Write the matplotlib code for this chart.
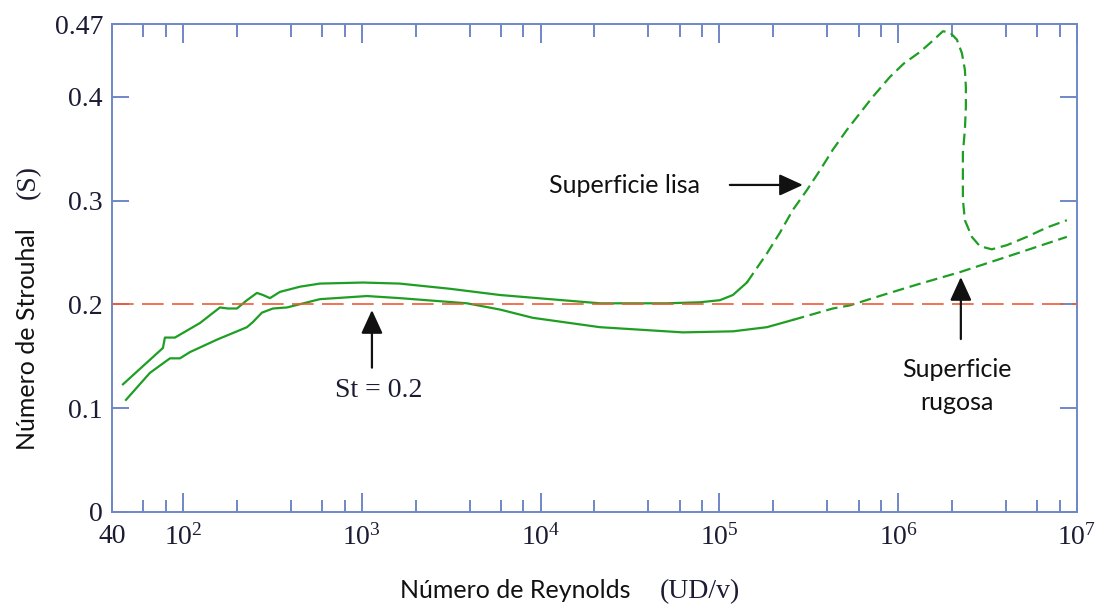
import matplotlib
matplotlib.use("Agg")
import matplotlib.pyplot as plt
from matplotlib.ticker import FixedLocator, NullFormatter

plt.rcParams["mathtext.fontset"] = "custom"
plt.rcParams["mathtext.rm"] = "Liberation Serif"
plt.rcParams["font.family"] = ["Liberation Serif", "DejaVu Serif"]

SERIF = ["Liberation Serif", "DejaVu Serif"]
SANS = ["Lato", "DejaVu Sans"]
AXC = "#6f87c6"      # color del marco
TXC = "#1b1b33"      # texto de ticks
GREEN = "#1f9e24"
RED = "#ef5a35"

# ---- curvas (Re, St) ----
# superficie lisa: tramo continuo y tramo discontinuo
re_lisa_solid = [46.1, 77.1, 79.1, 90.0, 124.2, 160.7, 178.1, 200.0, 227.5, 258.8, 279.6,
                 305.9, 348.0, 450.3, 582.6, 1013, 1625, 3108, 5916, 11260, 21450, 50820,
                 77730, 100600, 118900, 142400]
st_lisa_solid = [0.123, 0.158, 0.168, 0.168, 0.182, 0.197, 0.196, 0.196, 0.204, 0.211,
                 0.209, 0.206, 0.212, 0.217, 0.220, 0.221, 0.220, 0.215, 0.209, 0.205,
                 0.201, 0.201, 0.202, 0.204, 0.209, 0.221]
re_lisa_dash = [142400, 161960, 184200, 217800, 257500, 308300, 364500, 430900, 516100,
                610100, 721500, 898100, 1.0752e6, 1.3213e6, 1.5615e6, 1.7770e6, 1.9444e6,
                2.1281e6, 2.2699e6, 2.3594e6, 2.3900e6, 2.3900e6, 2.3594e6, 2.2993e6,
                2.2993e6, 2.2993e6, 2.3594e6, 2.5808e6, 2.8617e6, 3.3392e6, 4.0508e6,
                5.2420e6, 6.7805e6, 8.7726e6]
st_lisa_dash = [0.221, 0.235, 0.249, 0.269, 0.291, 0.310, 0.329, 0.349, 0.368, 0.384,
                0.400, 0.419, 0.432, 0.443, 0.454, 0.463, 0.462, 0.455, 0.442, 0.426,
                0.409, 0.390, 0.368, 0.346, 0.323, 0.301, 0.281, 0.265, 0.256, 0.253,
                0.257, 0.265, 0.274, 0.281]

# superficie rugosa
re_rug_solid = [47.9, 65.2, 84.4, 96.0, 109.2, 154.6, 227.5, 245.8, 276.0, 318.0, 380.9,
                582.6, 1067, 1625, 3868, 5916, 9050, 21450, 62460, 118900, 184200, 257500]
st_rug_solid = [0.108, 0.134, 0.148, 0.148, 0.154, 0.166, 0.178, 0.183, 0.192, 0.196,
                0.197, 0.205, 0.208, 0.206, 0.201, 0.195, 0.187, 0.178, 0.173, 0.174,
                0.178, 0.185]
re_rug_dash = [257500, 430900, 536500, 820700, 1.2716e6, 2.2114e6, 4.6075e6, 8.7726e6]
st_rug_dash = [0.185, 0.196, 0.199, 0.209, 0.219, 0.231, 0.249, 0.265]

st_ref = 0.2

xmajor = [40, 1e2, 1e3, 1e4, 1e5, 1e6, 1e7]
xmajor_labels = ["40"] + [r"$\mathrm{10^{%d}}$" % k for k in range(2, 8)]
ymajor = [0, 0.1, 0.2, 0.3, 0.4, 0.47]
ymajor_labels = ["0", "0.1", "0.2", "0.3", "0.4", "0.47"]

fig = plt.figure(figsize=(11, 6.08), dpi=100)
ax = fig.add_axes([0.1018, 0.1579, 0.8773, 0.8026])
ax.set_xscale("log")
ax.set_xlim(40, 1e7)
ax.set_ylim(0, 0.47)

ax.plot(re_lisa_solid, st_lisa_solid, color=GREEN, lw=1.6, zorder=2)
ax.plot(re_lisa_dash, st_lisa_dash, color=GREEN, lw=1.6, dashes=(5.2, 2.6), zorder=2)
ax.plot(re_rug_solid, st_rug_solid, color=GREEN, lw=1.6, zorder=2)
ax.plot(re_rug_dash, st_rug_dash, color=GREEN, lw=1.6, dashes=(5.2, 2.6), zorder=2)
ax.axhline(st_ref, color=RED, lw=1.2, dashes=(13, 5), zorder=3)

# ---- ejes ----
for s in ax.spines.values():
    s.set_color(AXC)
    s.set_linewidth(1.4)
ax.xaxis.set_major_locator(FixedLocator(xmajor))
ax.set_xticklabels(xmajor_labels)
minors = [60, 80] + [m * 10 ** k for k in range(2, 7) for m in (2, 4, 6, 8)]
ax.xaxis.set_minor_locator(FixedLocator(minors))
ax.xaxis.set_minor_formatter(NullFormatter())
ax.set_yticks(ymajor)
ax.set_yticklabels(ymajor_labels)
ax.tick_params(which="both", direction="in", top=True, right=True, color=AXC,
               labelcolor=TXC, labelsize=20)
ax.tick_params(axis="x", which="major", length=13.5, width=1.4, pad=9)
ax.tick_params(axis="x", which="minor", length=9, width=1.4)
ax.tick_params(axis="y", which="major", length=12, width=1.4, pad=6.5)

# ---- flechas y anotaciones ----
ap = dict(arrowstyle="-|>,head_length=1.2,head_width=0.55", color="#111111", lw=1.6,
          mutation_scale=12, shrinkA=0, shrinkB=0)
ax.annotate("", xy=(292900, 0.315), xytext=(114300, 0.315), arrowprops=ap)
ax.text(77730, 0.307, "Superficie lisa", family=SANS, fontsize=18, ha="right",
        va="baseline", color="#111111")
ax.annotate("", xy=(1138, 0.1945), xytext=(1138, 0.139), arrowprops=ap)
ax.text(1245, 0.111, "St = 0.2", family=SERIF, fontsize=20, ha="center",
        va="baseline", color=TXC)
ax.annotate("", xy=(2.24e6, 0.2263), xytext=(2.24e6, 0.1666), arrowprops=ap)
ax.text(2.13e6, 0.130, "Superficie", family=SANS, fontsize=18, ha="center",
        va="baseline", color="#111111")
ax.text(2.13e6, 0.098, "rugosa", family=SANS, fontsize=18, ha="center",
        va="baseline", color="#111111")

# ---- títulos de ejes (sans + serif) ----
fig.text(0.468, 0.0164, "Número de Reynolds", family=SANS, fontsize=18,
         ha="center", va="baseline", color="#111111")
fig.text(0.636, 0.0164, "(UD/v)", family=SERIF, fontsize=20,
         ha="center", va="baseline", color=TXC)
fig.text(0.0318, 0.443, "Número de Strouhal", family=SANS, fontsize=18, rotation=90,
         rotation_mode="anchor", ha="center", va="baseline", color="#111111")
fig.text(0.0318, 0.70, "(S)", family=SERIF, fontsize=20, rotation=90,
         rotation_mode="anchor", ha="center", va="baseline", color=TXC)

fig.savefig("out.png", dpi=100)
